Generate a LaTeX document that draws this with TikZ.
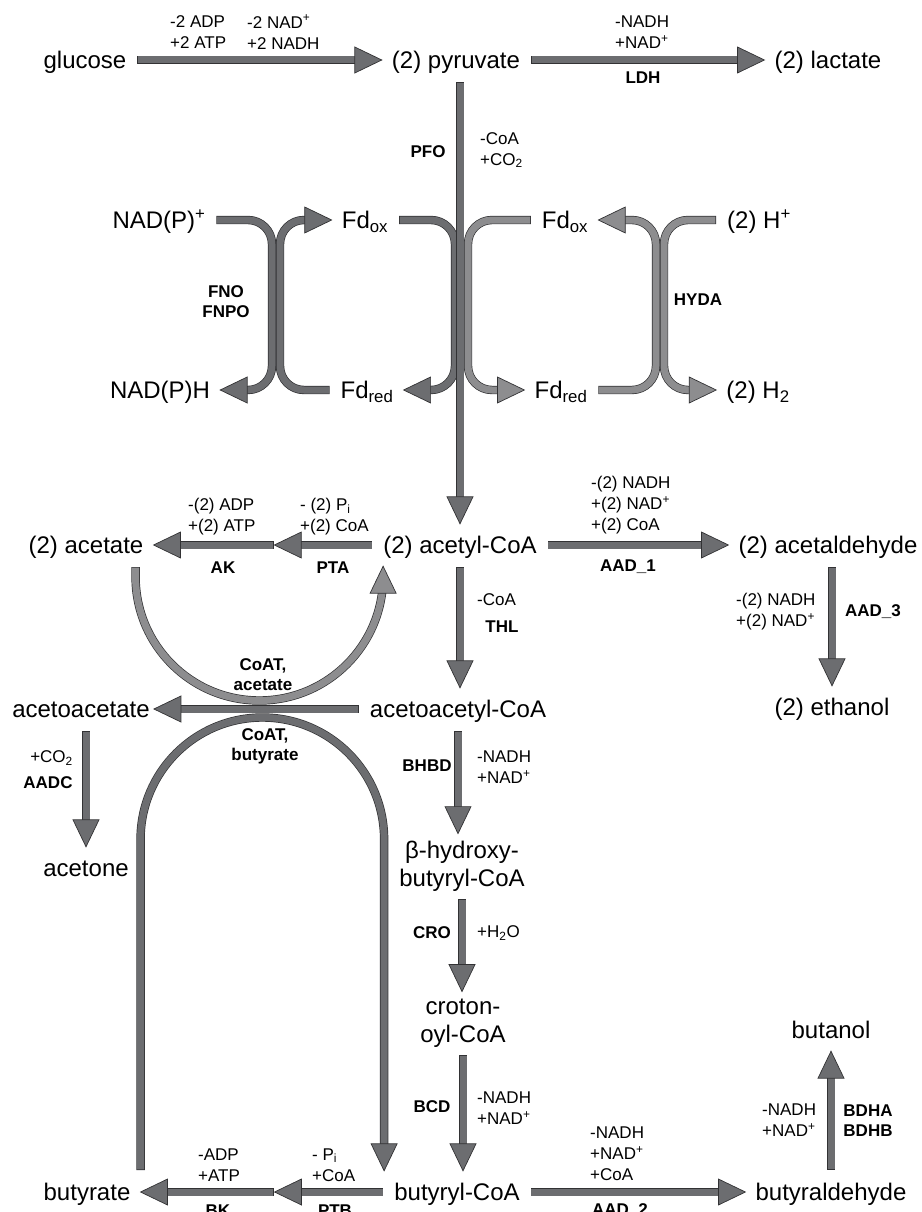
\documentclass[tikz,border=0pt]{standalone}
\usepackage{fontspec}
\setmainfont{Liberation Sans}
\usetikzlibrary{calc,decorations.markings}

\definecolor{arrdark}{RGB}{108,109,112}
\definecolor{arrlight}{RGB}{141,141,143}
\definecolor{arredge}{RGB}{50,50,52}

% block arrow head, drawn along the path end
\newcommand{\arrhead}[1]{\filldraw[draw=arredge, fill=#1, line width=0.7pt, sharp corners, line join=miter, shorten <=0pt, shorten >=0pt] (0pt,0pt) -- (-27pt,13pt) -- (-27pt,-13pt) -- cycle;}

\begin{document}
\begin{tikzpicture}[x=1pt, y=1pt,
    chem/.style={font=\fontsize{24}{28}\selectfont, inner xsep=10pt, inner ysep=11.5pt, text height=18pt, text depth=1pt},
    chemtwo/.style={font=\fontsize{24}{28}\selectfont, align=center, inner xsep=10pt, inner ysep=7pt},
    cof/.style={font=\fontsize{17}{21}\selectfont, align=left, inner sep=0pt},
    enz/.style={font=\fontsize{17}{20}\selectfont\bfseries, align=center, inner sep=0pt},
    shaft/.style={draw=arredge, line width=0.7pt, double=#1, double distance=7pt, line cap=rect, shorten <=5pt, shorten >=18pt},
    flowd/.style={shaft=arrdark, postaction={decorate, decoration={markings, mark=at position 1 with {\arrhead{arrdark}}}}},
    flowl/.style={shaft=arrlight, postaction={decorate, decoration={markings, mark=at position 1 with {\arrhead{arrlight}}}}}]
    \useasboundingbox (0,0) rectangle (921,-1212);

    % Compounds
    \node[chem] (glu) at (85,-60) {glucose};
    \node[chem] (pyr) at (456,-60) {(2) pyruvate};
    \node[chem] (lac) at (828,-60) {(2) lactate};
    \node[chem] (nadp) at (159,-220) {NAD(P)\textsuperscript{+}};
    \node[chem] (nadph) at (160,-390) {NAD(P)H};
    \node[chem] (fdoxa) at (365,-220) {Fd\textsubscript{ox}};
    \node[chem] (fdreda) at (367,-390) {Fd\textsubscript{red}};
    \node[chem] (fdoxb) at (565,-220) {Fd\textsubscript{ox}};
    \node[chem] (fdredb) at (561,-390) {Fd\textsubscript{red}};
    \node[chem] (hplus) at (759,-220) {(2) H\textsuperscript{+}};
    \node[chem] (htwo) at (758,-390) {(2) H\textsubscript{2}};
    \node[chem] (acetate) at (86,-545) {(2) acetate};
    \node[chem] (acoa) at (460,-545) {(2) acetyl-CoA};
    \node[chem] (acald) at (828,-545) {(2) acetaldehyde};
    \node[chem] (etoh) at (832,-707) {(2) ethanol};
    \node[chem] (aac) at (81,-709) {acetoacetate};
    \node[chem] (aacoa) at (458,-709) {acetoacetyl-CoA};
    \node[chem] (acetone) at (86,-868) {acetone};
    \node[chemtwo] (hbcoa) at (462,-866) {β-hydroxy-\\butyryl-CoA};
    \node[chemtwo] (crcoa) at (463,-1023) {croton-\\oyl-CoA};
    \node[chem] (bcoa) at (457,-1192) {butyryl-CoA};
    \node[chem] (butyrate) at (87,-1192) {butyrate};
    \node[chem] (bald) at (831,-1192) {butyraldehyde};
    \node[chem] (butanol) at (831,-1030) {butanol};

    % Glycolysis and lactate
    \path[flowd] (glu.east) -- (pyr.west);
    \path[flowd] (pyr.east) -- (lac.west);

    % Ferredoxin loops
    \coordinate (fnox) at (276,-305);
    \coordinate (pfox) at (462,-305);
    \coordinate (hydx) at (660,-305);
    \path[flowd, rounded corners=24pt] (nadp.east) -| ([xshift=-4pt]fnox) |- (nadph.east);
    \path[flowd, rounded corners=24pt] (fdreda.west) -| ([xshift=4pt]fnox) |- (fdoxa.west);
    \path[flowd, rounded corners=24pt] (fdoxa.east) -| ([xshift=-7pt]pfox) |- (fdreda.east);
    \path[flowl, rounded corners=24pt] (fdoxb.west) -| ([xshift=6pt]pfox) |- (fdredb.west);
    \path[flowl, rounded corners=24pt] (fdredb.east) -| ([xshift=-4pt]hydx) |- (fdoxb.east);
    \path[flowl, rounded corners=24pt] (hplus.west) -| ([xshift=4pt]hydx) |- (htwo.west);
    \path[flowd] (acoa.north |- pyr.south) -- (acoa.north);

    % Acetyl-CoA branches
    \coordinate (ptamid) at ($(acetate.east)!0.55!(acoa.west)$);
    \path[flowd] (ptamid) -- (acetate.east);
    \path[flowd] (acoa.west) -- (ptamid);
    \path[flowd] (acoa.east) -- (acald.west);
    \path[flowd] (etoh.north |- acald.south) -- (etoh.north);
    \path[flowd] (acoa.south) -- (acoa.south |- aacoa.north);

    % CoA transferase
    \path[flowl] let \p1=([xshift=-18pt]acetate.south east), \p2=([xshift=10pt]acoa.south west), \p3=(aacoa.west), \n1={(\x2-\x1)/2} in
        (\p1) -- (\x1,{\y3+8.5pt+\n1}) arc[start angle=180, end angle=360, radius=\n1] -- (\x2,\y2);
    \path[flowd] let \p1=(butyrate.north east), \p2=(bcoa.north west), \p3=(aacoa.west), \n1={(\x2-\x1)/2} in
        (\p1) -- (\x1,{\y3-8.5pt-\n1}) arc[start angle=180, end angle=0, radius=\n1] -- (\x2,\y2);
    \path[flowd] (aacoa.west) -- ([xshift=-6pt]aac.east);
    \path[flowd] (acetone.north |- aac.south) -- (acetone.north);

    % Butyryl-CoA branch
    \path[flowd] (aacoa.south) -- (aacoa.south |- hbcoa.north);
    \path[flowd] (hbcoa.south) -- (hbcoa.south |- crcoa.north);
    \path[flowd] (crcoa.south) -- (crcoa.south |- bcoa.north);
    \coordinate (ptbmid) at ($(butyrate.east)!0.55!(bcoa.west)$);
    \path[flowd] (ptbmid) -- (butyrate.east);
    \path[flowd] (bcoa.west) -- (ptbmid);
    \path[flowd] (bcoa.east) -- (bald.west);
    \path[flowd] (bald.north) -- (butanol.south);

    % Cofactors and enzymes
    \node[cof, anchor=west] (cglya) at (170,-32) {-2 ADP\\+2 ATP};
    \node[cof, anchor=west] (cglyb) at (247,-32) {-2 NAD\textsuperscript{+}\\+2 NADH};
    \node[cof, anchor=west] (cldh) at (615,-32) {-NADH\\+NAD\textsuperscript{+}};
    \node[enz] (ldh) at (643,-78) {LDH};
    \node[enz] (pfo) at (428,-152) {PFO};
    \node[cof, anchor=west] (cpfo) at (480,-150) {-CoA\\+CO\textsubscript{2}};
    \node[enz] (fno) at (226,-302) {FNO\\FNPO};
    \node[enz] (hyda) at (698,-300) {HYDA};
    \node[cof, anchor=west] (cak) at (188,-517) {-(2) ADP\\+(2) ATP};
    \node[cof, anchor=west] (cpta) at (300,-517) {- (2) P\textsubscript{i}\\+(2) CoA};
    \node[enz] (ak) at (223,-568) {AK};
    \node[enz] (pta) at (333,-568) {PTA};
    \node[cof, anchor=west] (caadone) at (591,-505) {-(2) NADH\\+(2) NAD\textsuperscript{+}\\+(2) CoA};
    \node[enz] (aadone) at (628,-567) {AAD\_1};
    \node[cof, anchor=west] (caadthree) at (736,-612) {-(2) NADH\\+(2) NAD\textsuperscript{+}};
    \node[enz] (aadthree) at (873,-612) {AAD\_3};
    \node[cof, anchor=west] (cthl) at (477,-600) {-CoA};
    \node[enz] (thl) at (502,-627) {THL};
    \node[enz] (coatac) at (263,-675) {CoAT,\\acetate};
    \node[enz] (coatbu) at (265,-746) {CoAT,\\butyrate};
    \node[cof, anchor=east] (caadc) at (73,-758) {+CO\textsubscript{2}};
    \node[enz] (aadc) at (48,-783) {AADC};
    \node[enz] (bhbd) at (427,-766) {BHBD};
    \node[cof, anchor=west] (cbhbd) at (477,-767) {-NADH\\+NAD\textsuperscript{+}};
    \node[enz] (cro) at (432,-933) {CRO};
    \node[cof, anchor=west] (ccro) at (477,-933) {+H\textsubscript{2}O};
    \node[enz] (bcd) at (432,-1107) {BCD};
    \node[cof, anchor=west] (cbcd) at (477,-1108) {-NADH\\+NAD\textsuperscript{+}};
    \node[cof, anchor=west] (cbk) at (198,-1165) {-ADP\\+ATP};
    \node[cof, anchor=west] (cptb) at (312,-1165) {- P\textsubscript{i}\\+CoA};
    \node[enz] (bk) at (218,-1211) {BK};
    \node[enz] (ptb) at (335,-1211) {PTB};
    \node[cof, anchor=west] (caadtwo) at (590,-1154) {-NADH\\+NAD\textsuperscript{+}\\+CoA};
    \node[enz] (aadtwo) at (620,-1211) {AAD\_2};
    \node[cof, anchor=west] (cbdh) at (762,-1120) {-NADH\\+NAD\textsuperscript{+}};
    \node[enz] (bdh) at (868,-1121) {BDHA\\BDHB};
\end{tikzpicture}
\end{document}
